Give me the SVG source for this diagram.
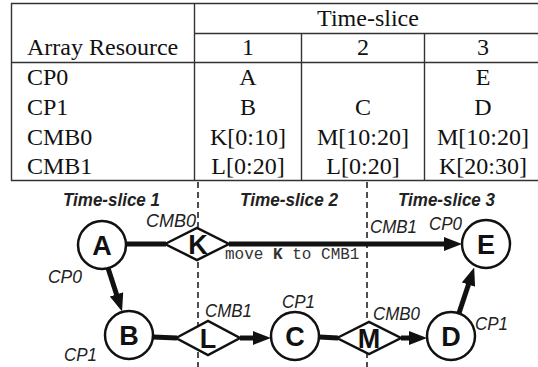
<svg xmlns="http://www.w3.org/2000/svg" width="538" height="367" viewBox="0 0 538 367">
<style>
.tb{font-family:"Liberation Serif","Times New Roman",serif;font-size:24px;fill:#111}
.tl{stroke:#333;stroke-width:1.4;fill:none}
.ts{font-family:"Liberation Sans",Arial,sans-serif;font-size:19px;font-weight:bold;font-style:italic;fill:#222}
.lb{font-family:"Liberation Sans",Arial,sans-serif;font-size:19px;font-style:italic;fill:#222}
.nd{fill:#fff;stroke:#111;stroke-width:2.5}
.nl{font-family:"Liberation Sans",Arial,sans-serif;font-size:27px;font-weight:bold;fill:#111;text-anchor:middle}
.ed{stroke:#111;stroke-width:5;fill:none}
.dl{stroke:#222;stroke-width:1.6;stroke-dasharray:6 4}
.mv{font-family:"Liberation Mono","Courier New",monospace;font-size:16px;fill:#333}
</style>
<defs>
<marker id="ah" markerUnits="userSpaceOnUse" markerWidth="18" markerHeight="14" refX="8" refY="7" orient="auto" viewBox="0 0 18 14">
<path d="M0,0 L18,7 L0,14 z" fill="#111"/>
</marker>
</defs>
<g id="table">
<polyline class="tl" points="538,3.5 11.5,3.5 11.5,180.5 538,180.5"/>
<line class="tl" x1="194.5" y1="3.5" x2="194.5" y2="180.5"/>
<line class="tl" x1="194.5" y1="33.5" x2="538" y2="33.5"/>
<line class="tl" x1="11.5" y1="62.5" x2="538" y2="62.5"/>
<line class="tl" x1="301.5" y1="33.5" x2="301.5" y2="180.5"/>
<line class="tl" x1="424.5" y1="33.5" x2="424.5" y2="180.5"/>
<text class="tb" x="368" y="26" text-anchor="middle">Time-slice</text>
<text class="tb" x="27" y="55">Array Resource</text>
<g text-anchor="middle">
<text class="tb" x="248" y="55">1</text>
<text class="tb" x="363" y="55">2</text>
<text class="tb" x="483" y="55">3</text>
<text class="tb" x="248" y="85">A</text>
<text class="tb" x="483" y="85">E</text>
<text class="tb" x="248" y="115">B</text>
<text class="tb" x="363" y="115">C</text>
<text class="tb" x="483" y="115">D</text>
<text class="tb" x="248" y="145">K[0:10]</text>
<text class="tb" x="363" y="145">M[10:20]</text>
<text class="tb" x="483" y="145">M[10:20]</text>
<text class="tb" x="248" y="174">L[0:20]</text>
<text class="tb" x="363" y="174">L[0:20]</text>
<text class="tb" x="483" y="174">K[20:30]</text>
</g>
<text class="tb" x="27" y="85">CP0</text>
<text class="tb" x="27" y="115">CP1</text>
<text class="tb" x="27" y="145">CMB0</text>
<text class="tb" x="27" y="174">CMB1</text>
</g>
<g id="slices">
<line class="dl" x1="198" y1="182" x2="198" y2="367"/>
<line class="dl" x1="367" y1="182" x2="367" y2="367"/>
<text class="ts" x="63" y="206" textLength="97" lengthAdjust="spacingAndGlyphs">Time-slice 1</text>
<text class="ts" x="240" y="206" textLength="98" lengthAdjust="spacingAndGlyphs">Time-slice 2</text>
<text class="ts" x="398" y="206" textLength="97" lengthAdjust="spacingAndGlyphs">Time-slice 3</text>
</g>
<g id="connectors">
<line class="ed" x1="126" y1="244" x2="166" y2="244"/>
<line class="ed" x1="229" y1="244" x2="452" y2="244" marker-end="url(#ah)"/>
<line class="ed" x1="108" y1="268" x2="119" y2="302" marker-end="url(#ah)"/>
<line class="ed" x1="153" y1="337" x2="177" y2="338"/>
<line class="ed" x1="240" y1="338" x2="261" y2="338" marker-end="url(#ah)"/>
<line class="ed" x1="319" y1="337" x2="338" y2="338"/>
<line class="ed" x1="401" y1="338" x2="417" y2="338" marker-end="url(#ah)"/>
<line class="ed" x1="459" y1="313" x2="471" y2="277" marker-end="url(#ah)"/>
<text class="mv" x="225" y="259">move <tspan font-weight="bold">K</tspan> to CMB1</text>
</g>
<g id="node-A"><circle class="nd" cx="102" cy="245" r="24"/><text class="nl" x="102" y="255">A</text><text class="lb" x="48" y="283" textLength="34" lengthAdjust="spacingAndGlyphs">CP0</text></g>
<g id="node-B"><circle class="nd" cx="129" cy="335" r="24"/><text class="nl" x="129" y="345">B</text><text class="lb" x="64" y="361" textLength="33" lengthAdjust="spacingAndGlyphs">CP1</text></g>
<g id="node-C"><circle class="nd" cx="295" cy="336" r="24"/><text class="nl" x="295" y="346">C</text><text class="lb" x="282" y="308" textLength="33" lengthAdjust="spacingAndGlyphs">CP1</text></g>
<g id="node-D"><circle class="nd" cx="451" cy="336" r="24"/><text class="nl" x="451" y="346">D</text><text class="lb" x="475" y="330" textLength="33" lengthAdjust="spacingAndGlyphs">CP1</text></g>
<g id="node-E"><circle class="nd" cx="486" cy="244" r="24"/><text class="nl" x="486" y="254">E</text><text class="lb" x="429" y="230" textLength="33" lengthAdjust="spacingAndGlyphs">CP0</text></g>
<g id="node-K"><path class="nd" d="M165,244 L197,228 L229,244 L197,260 z"/><text class="nl" x="198" y="254">K</text><text class="lb" x="146" y="227" textLength="50" lengthAdjust="spacingAndGlyphs">CMB0</text></g>
<g id="node-L"><path class="nd" d="M176,338 L208,321 L240,338 L208,355 z"/><text class="nl" x="208" y="348">L</text><text class="lb" x="205" y="317" textLength="47" lengthAdjust="spacingAndGlyphs">CMB1</text></g>
<g id="node-M"><path class="nd" d="M337,338 L369,322 L401,338 L369,354 z"/><text class="nl" x="369" y="348">M</text><text class="lb" x="373" y="320" textLength="47" lengthAdjust="spacingAndGlyphs">CMB0</text><text class="lb" x="370" y="233" textLength="47" lengthAdjust="spacingAndGlyphs">CMB1</text></g>
</svg>
